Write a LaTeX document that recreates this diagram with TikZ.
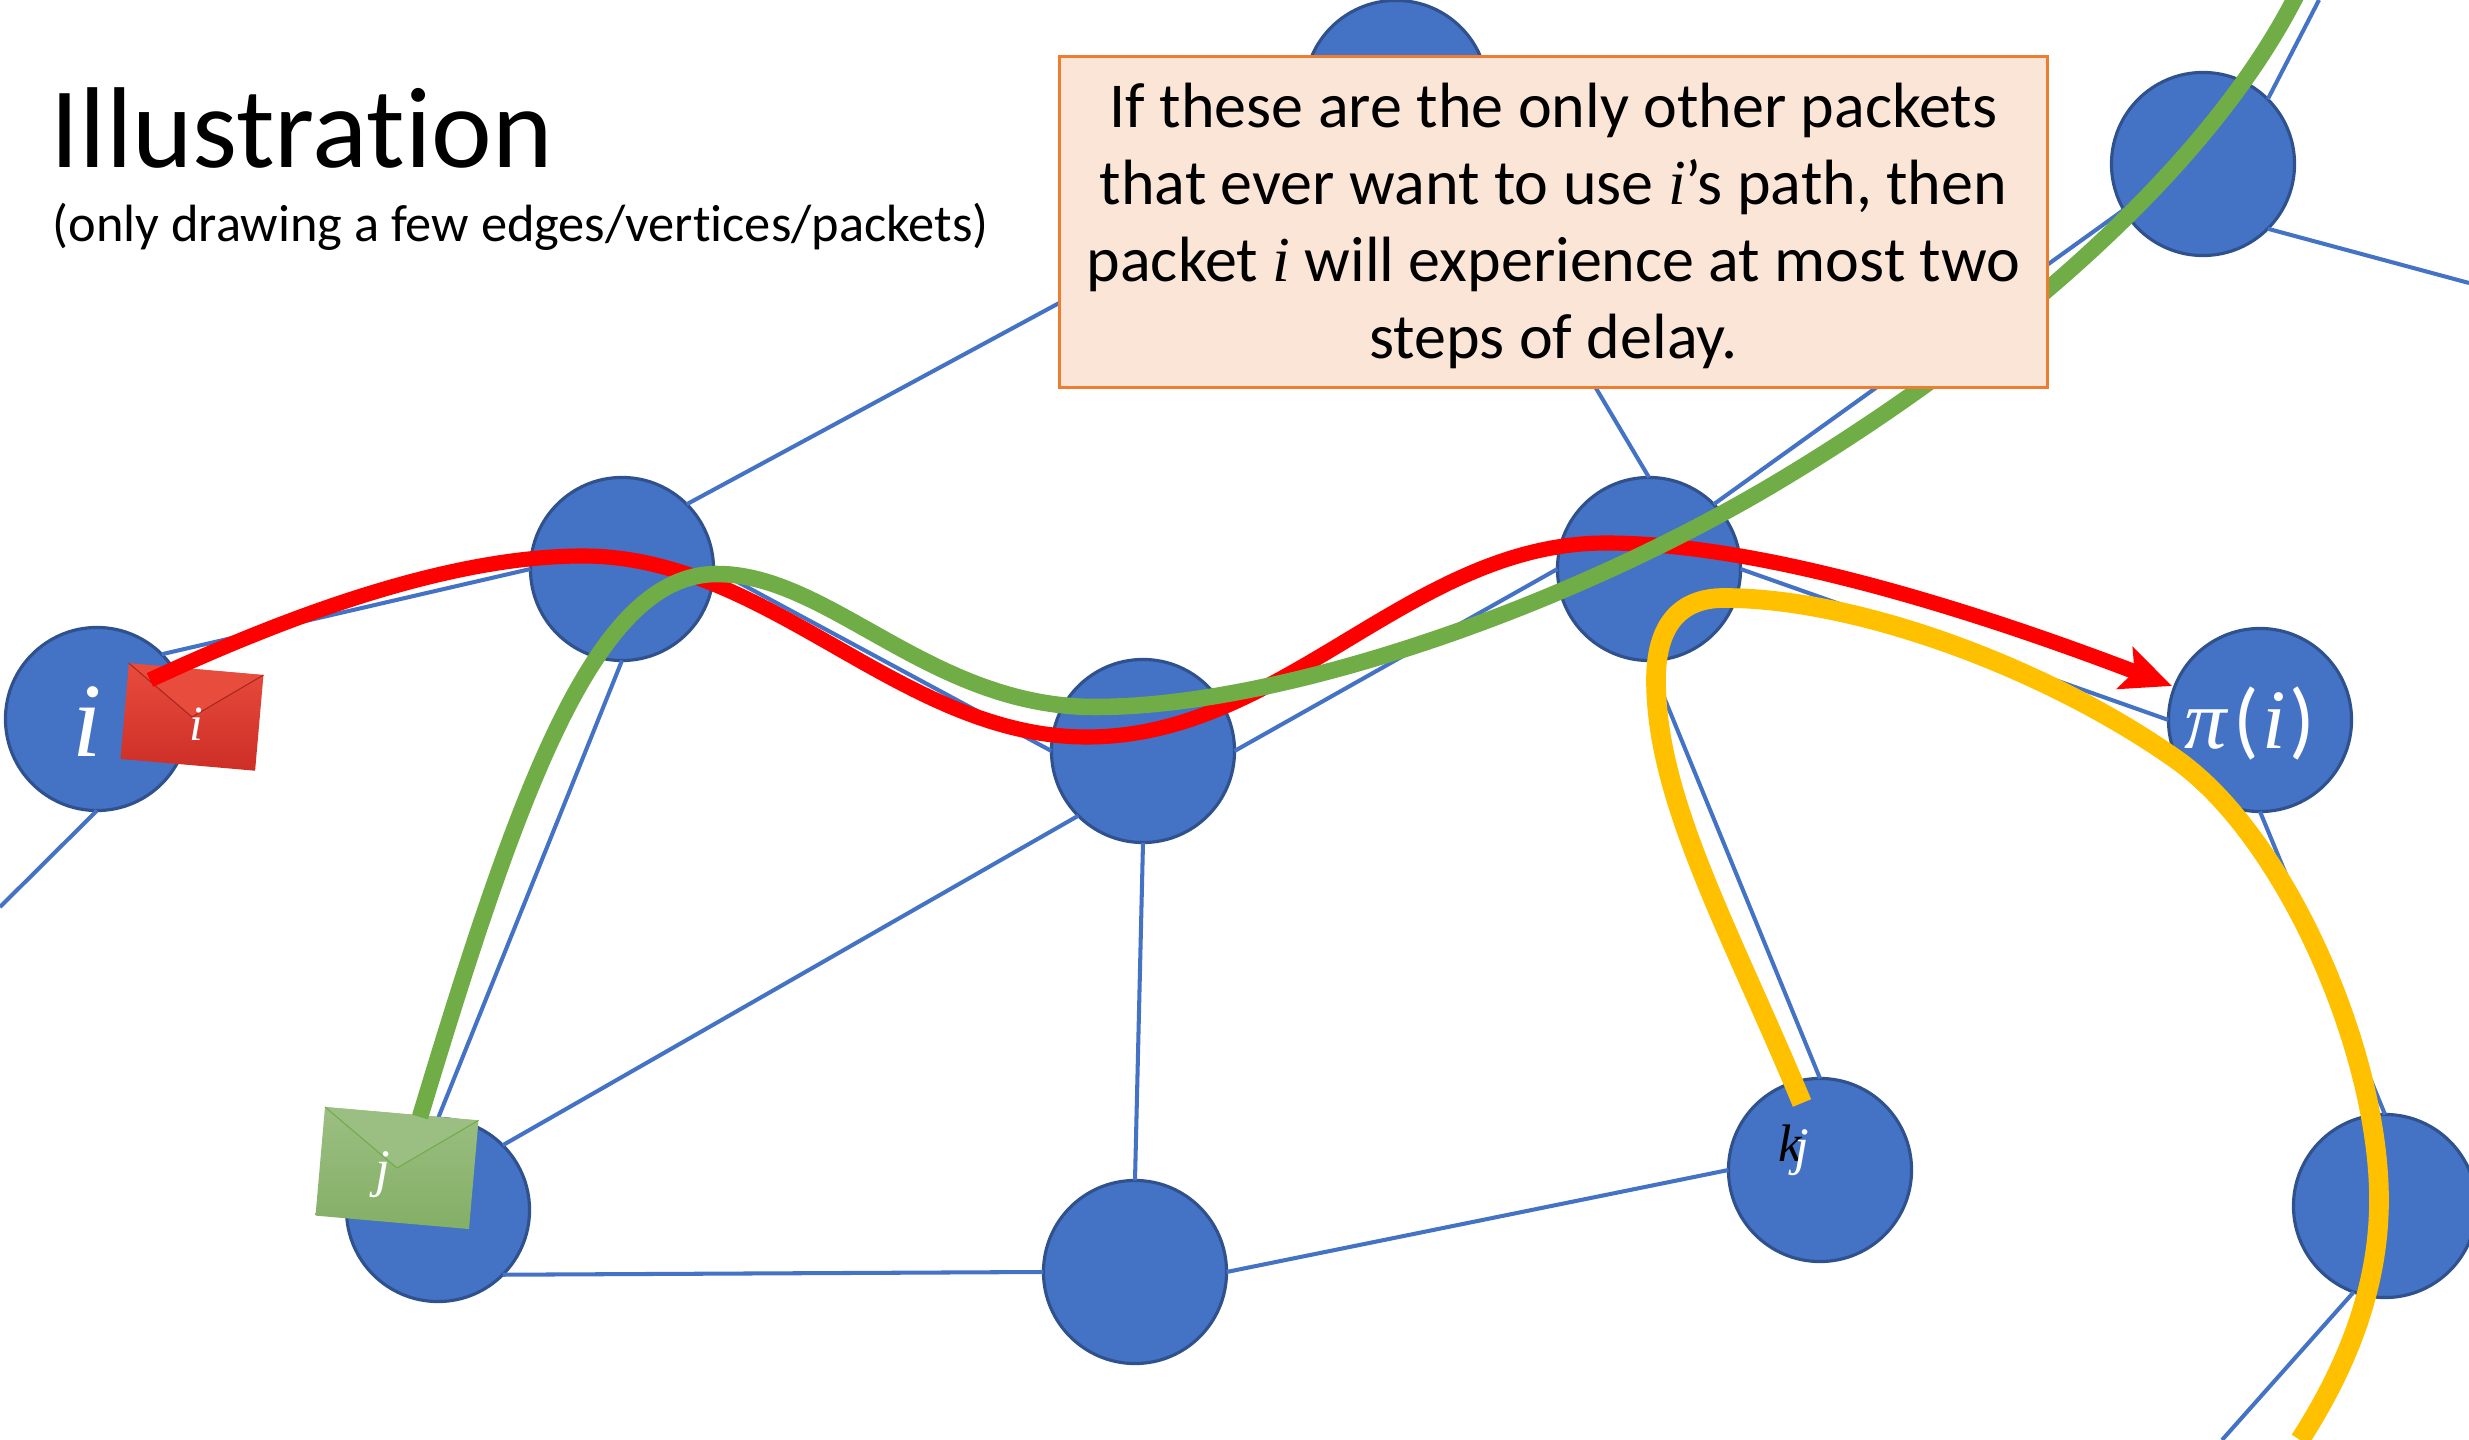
\documentclass[tikz,border=0pt]{standalone}
\usepackage{amsmath}
\usepackage{fontspec}
\setmainfont[Ligatures=NoCommon]{Carlito}
\newfontfamily\mathish{Liberation Serif}
\usetikzlibrary{arrows.meta,shapes}
\definecolor{vertexblue}{HTML}{4472C4}
\definecolor{vertexedge}{HTML}{2F528F}
\definecolor{notefill}{HTML}{FBE5D6}
\definecolor{noteedge}{HTML}{ED7D31}
\definecolor{pathgreen}{HTML}{70AD47}
\definecolor{pathyellow}{HTML}{FFC000}
\definecolor{redtop}{HTML}{E84C3D}
\definecolor{redlow}{HTML}{CD2E26}
\definecolor{redline}{HTML}{A8261C}
\definecolor{greentop}{HTML}{9BBF82}
\definecolor{greenlow}{HTML}{84AF66}
\newcommand{\mi}[1]{{\mathish\itshape #1}}
\tikzset{
  vertex/.style={circle,draw=vertexedge,fill=vertexblue,line width=0.9pt,minimum size=1.83cm,inner sep=0pt,outer sep=0pt},
  link/.style={draw=vertexblue,line width=1.15pt},
  vlabel/.style={text=white,inner sep=0pt},
  envelope/.style={rectangle,rotate=-5,inner sep=0pt,outer sep=0pt},
  route/.style={line cap=butt},
}
\begin{document}
\begin{tikzpicture}[x=0.01cm,y=-0.01cm]
\path[use as bounding box,clip] (0,0) rectangle (2469,1440);
\begin{scope}
\node[vertex] (1)  at (97,719)    {};
\node[vertex] (2)  at (622,569)   {};
\node[vertex] (3)  at (1143,751)  {};
\node[vertex] (4)  at (1649,569)  {};
\node[vertex] (5)  at (2260,720)  {};
\node[vertex] (6)  at (1396,92)   {};
\node[vertex] (7)  at (2203,164)  {};
\node[vertex] (8)  at (438,1210)  {};
\node[vertex] (9)  at (1135,1272) {};
\node[vertex] (10) at (1820,1170) {};
\node[vertex] (11) at (2385,1206) {};
\end{scope}
\coordinate (off1)  at (0,907);
\coordinate (off2)  at (2319,0);
\coordinate (off3)  at (2469,283);
\coordinate (off4)  at (2222,1440);
\coordinate (hid6)  at (1396,121);
\coordinate (hid6b) at (1420,92);
\coordinate (hid7)  at (2203,153);
\draw[link] (1.south) -- (off1);
\draw[link] (1.45) -- (2.west);
\draw[link] (2.45) -- (hid6);
\draw[link] (2.east) -- (3.west);
\draw[link] (2.south) -- (8.north);
\draw[link] (3.east) -- (4.west);
\draw[link] (3.225) -- (8.45);
\draw[link] (3.south) -- (9.north);
\draw[link] (4.north) -- (hid6b);
\draw[link] (4.45) -- (hid7);
\draw[link] (4.east) -- (5.west);
\draw[link] (4.south) -- (10.north);
\draw[link] (5.south) -- (11.north);
\draw[link] (7.45) -- (off2);
\draw[link] (7.-45) -- (off3);
\draw[link] (8.-45) -- (9.west);
\draw[link] (9.east) -- (10.west);
\draw[link] (11.250) -- (off4);
\node[vlabel,font=\fontsize{30}{30}\selectfont] (ilabel) at (87,722) {\mi{i}};
\node[vlabel,font=\fontsize{24}{24}\selectfont] (pilabel) at (2250,723) {\mi{π}\hspace{0.08em}(\hspace{0.04em}\mi{i}\hspace{0.04em})};
\node[inner sep=0pt,font=\fontsize{15}{15}\selectfont] (klabel) at (1790,1143) {\mi{k}};
\node[vlabel,font=\fontsize{15}{15}\selectfont] (jhidden) at (1802,1153) {\mi{j}};
% packets
\node[envelope,minimum width=1.35cm,minimum height=0.96cm,top color=redtop,bottom color=redlow] (envi) at (192,717) {};
\fill[redtop,draw=redline,line width=0.3pt] (envi.north west) -- (envi.center) -- (envi.north east);
\node[vlabel,font=\fontsize{14}{14}\selectfont] (ipacket) at (196,724) {\mi{i}};
\node[envelope,minimum width=1.54cm,minimum height=1.09cm,top color=greentop,bottom color=greenlow] (envj) at (397,1168) {};
\fill[greentop,draw=pathgreen,line width=0.3pt] (envj.north west) -- (envj.center) -- (envj.north east);
\node[vlabel,font=\fontsize{15}{15}\selectfont] (jpacket) at (383,1175) {\mi{j}};
% routes
\coordinate (redstart) at (150,680);
\coordinate (greenstart) at (420,1117);
\coordinate (yellowstart) at (1802,1103);
\draw[route,red,line width=4.3pt,-{Stealth[length=0.5cm,width=0.44cm,inset=0.1cm]}] (redstart) .. controls (290,615) and (450,556) .. (583,556) .. controls (770,556) and (900,737) .. (1087,737) .. controls (1285,737) and (1410,543) .. (1606,543) .. controls (1780,543) and (2020,628) .. (2172,686);
\draw[route,pathgreen,line width=4.7pt] (greenstart) .. controls (520,785) and (596,574) .. (717,574) .. controls (830,574) and (930,707) .. (1095,707) .. controls (1280,707) and (1560,610) .. (1769,487) .. controls (1950,380) and (2190,200) .. (2294,0) -- (2310,-31);
\draw[route,pathyellow,line width=5.6pt] (yellowstart) .. controls (1730,930) and (1656,800) .. (1656,680) .. controls (1656,625) and (1680,598) .. (1724,598) .. controls (1860,598) and (2050,670) .. (2177,760) .. controls (2285,837) and (2379,1050) .. (2379,1200) .. controls (2379,1290) and (2345,1370) .. (2300,1440);
% text
\node[anchor=base west,inner sep=0pt,font=\fontsize{32.7}{32.7}\selectfont] (title) at (50,168) {Illustration};
\node[anchor=base west,inner sep=0pt,font=\fontsize{14.9}{14.9}\selectfont] (subtitle) at (52,242) {(only drawing a few edges/vertices/packets)};
\node[draw=noteedge,fill=notefill,line width=0.9pt,minimum width=9.87cm,minimum height=3.3cm] (note) at (1553.5,222) {};
\node[align=center,inner sep=0pt,font=\fontsize{18.2}{21.9}\selectfont] (notetext) at (1553.5,226) {If these are the only other packets\\that ever want to use \mi{i}’s path, then\\packet \mi{i} will experience at most two\\steps of delay.};
\end{tikzpicture}
\end{document}
